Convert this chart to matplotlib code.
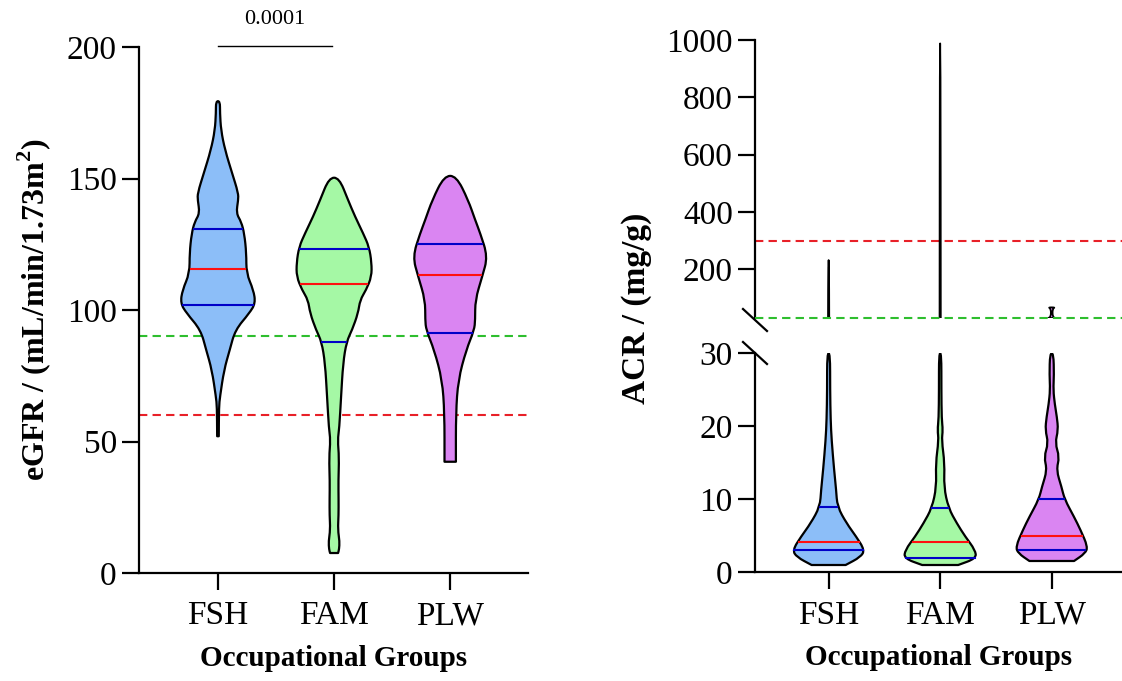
import numpy as np
import matplotlib
matplotlib.use("Agg")
import matplotlib.pyplot as plt
from matplotlib.lines import Line2D
from matplotlib.path import Path
from matplotlib.patches import PathPatch

plt.rcParams['font.family'] = ['Liberation Serif', 'DejaVu Serif']
plt.rcParams['mathtext.fontset'] = 'custom'
plt.rcParams['mathtext.rm'] = 'Liberation Serif'
plt.rcParams['mathtext.bf'] = 'Liberation Serif:bold'

groups = ["FSH", "FAM", "PLW"]
fills = ["#8CBEF8", "#A5F8A5", "#DA85F2"]

# eGFR violin outlines: value levels and relative density (half width)
egfr_levels = {
    "FSH": [52, 63.2, 67, 77.2, 84.8, 92.4, 98.8, 102.6, 107.6, 114, 121.6, 129,
            133.5, 136.8, 141.8, 144.5, 152, 160.8, 168.4, 175, 179.4],
    "FAM": [7.6, 9, 12, 16.5, 22, 28, 35, 44, 50.6, 55, 67, 79.8, 88, 92.4, 98.8,
            103.8, 107.6, 112.7, 118, 124, 129.2, 135.5, 141.8, 150.3],
    "PLW": [42.3, 60.8, 73.4, 84.8, 92.4, 96.2, 103.8, 112.7, 120.3, 129.2, 134.2,
            141.8, 151],
}
egfr_density = {
    "FSH": [0.8, 1, 2, 6, 11.6, 17, 31, 37, 35, 28, 28, 26, 23, 18, 20, 20, 14, 7,
            3, 2, 2],
    "FAM": [4, 5, 5.5, 3.8, 4.5, 4.5, 4.3, 5, 3.6, 5.2, 7, 9, 12.5, 18, 24, 26, 32,
            37.5, 37.5, 35, 29, 21, 14, 5],
    "PLW": [5.7, 5.7, 8, 16, 24, 25, 25, 32, 37.5, 30, 25, 18, 6],
}
egfr_q1 = [101.9, 88.0, 91.4]
egfr_median = [115.6, 109.9, 113.2]
egfr_q3 = [130.7, 123.1, 125.1]
egfr_pvalue = "0.0001"

# ACR violin outlines, lower range (0-30)
acr_levels = {
    "FSH": [1.0, 2.1, 3.05, 4.9, 6.7, 9, 11.3, 14, 18.1, 20.9, 25, 30],
    "FAM": [1.0, 1.9, 3.05, 4.9, 6.7, 8.8, 11.7, 14.9, 18.1, 19.5, 21, 25, 30],
    "PLW": [1.55, 2.6, 3.5, 5.8, 7.6, 10, 11.7, 14, 15.8, 17.7, 19.5, 21.3, 23, 25,
            27, 30],
}
acr_density = {
    "FSH": [17, 32, 36, 27.5, 18, 8.7, 7.5, 5.5, 3, 2, 1.5, 1.5],
    "FAM": [18, 36, 35, 25, 16.7, 8.3, 3.7, 4.5, 1.5, 2.7, 1.5, 1.2, 1.2],
    "PLW": [21.7, 32.5, 35, 28, 21.7, 12.5, 9.5, 4.5, 7.5, 3.3, 6.3, 5, 3, 1.5, 2.2,
            1.7],
}
# ACR upper range (tails above 30)
acr_hi_levels = {
    "FSH": [30, 232],
    "FAM": [30, 988],
    "PLW": [30, 34, 63, 67],
}
acr_hi_density = {
    "FSH": [0.6, 0.4],
    "FAM": [0.6, 0.4],
    "PLW": [3.5, 0.8, 0.8, 3.5],
}
acr_q1 = [3.0, 2.0, 3.0]
acr_median = [4.1, 4.2, 5.0]
acr_q3 = [9.0, 8.8, 10.0]

HALF = 0.323
W, H = 1122, 681


def smooth_outline(xs, ys):
    # quadratic bezier through midpoints so the outline looks rounded
    pts = np.column_stack([xs, ys])
    mids = (pts[:-1] + pts[1:]) / 2
    verts = [pts[0], mids[0]]
    codes = [Path.MOVETO, Path.LINETO]
    for i in range(1, len(pts) - 1):
        verts += [pts[i], mids[i]]
        codes += [Path.CURVE3, Path.CURVE3]
    verts += [pts[-1], pts[0]]
    codes += [Path.LINETO, Path.CLOSEPOLY]
    return Path(verts, codes)


def draw_violin(ax, x, levels, dens, norm, color, lw=1.6):
    y = np.array(levels, float)
    hw = np.array(dens, float) / norm * HALF
    xs = np.concatenate([x - hw, (x + hw)[::-1]])
    ys = np.concatenate([y, y[::-1]])
    ax.add_patch(PathPatch(smooth_outline(xs, ys), facecolor=color,
                           edgecolor="black", lw=lw, zorder=2, joinstyle="round"))


def draw_stat(ax, x, levels, dens, norm, val, color):
    hw = np.interp(val, levels, dens) / norm * HALF * 0.96
    ax.plot([x - hw, x + hw], [val, val], color=color, lw=1.5, zorder=3)


def style(ax):
    for s in ["top", "right"]:
        ax.spines[s].set_visible(False)
    for s in ["left", "bottom"]:
        ax.spines[s].set_linewidth(1.6)
    ax.tick_params(width=1.6, length=12, labelsize=24, pad=4)


fig = plt.figure(figsize=(W / 100, H / 100), dpi=100)

# ---- left panel: eGFR ----
ax1 = fig.add_axes([139 / W, 1 - 573 / H, (528 - 139) / W, 526 / H])
style(ax1)
for i, g in enumerate(groups):
    norm = max(egfr_density[g])
    draw_violin(ax1, i, egfr_levels[g], egfr_density[g], norm, fills[i])
    draw_stat(ax1, i, egfr_levels[g], egfr_density[g], norm, egfr_q1[i], "#0000C8")
    draw_stat(ax1, i, egfr_levels[g], egfr_density[g], norm, egfr_q3[i], "#0000C8")
    draw_stat(ax1, i, egfr_levels[g], egfr_density[g], norm, egfr_median[i], "#FF1010")
ax1.axhline(90, color="#2EBE2E", lw=1.5, ls=(0, (4, 2.5)), zorder=1)
ax1.axhline(60, color="#E82028", lw=1.5, ls=(0, (4, 2.5)), zorder=1)
ax1.set_xlim(-0.68, 2.67)
ax1.set_ylim(0, 200)
ax1.set_yticks([0, 50, 100, 150, 200])
ax1.set_xticks(range(3))
ax1.set_xticklabels(groups)
ax1.tick_params(axis="x", pad=8)
ax1.set_xlabel("Occupational Groups", fontsize=21, fontweight="bold", labelpad=10)
ax1.set_ylabel(r"eGFR / (mL/min/1.73m$^{\mathbf{2}}$)", fontsize=23,
               fontweight="bold", labelpad=10)
ax1.plot([0, 0.98], [200.5, 200.5], color="black", lw=1.0, clip_on=False)
ax1.text(0.49, 207, egfr_pvalue, ha="center", va="bottom", fontsize=16)

# ---- right panel: ACR with broken axis ----
ax_top = fig.add_axes([755 / W, 1 - 318 / H, (W - 755) / W, (318 - 40) / H])
ax_bot = fig.add_axes([755 / W, 1 - 572.3 / H, (W - 755) / W, (572.3 - 353.3) / H])
style(ax_top)
style(ax_bot)
ax_top.spines["bottom"].set_visible(False)
ax_top.tick_params(axis="x", bottom=False, labelbottom=False)
for i, g in enumerate(groups):
    norm = max(acr_density[g])
    draw_violin(ax_bot, i, acr_levels[g], acr_density[g], norm, fills[i])
    draw_violin(ax_top, i, acr_hi_levels[g], acr_hi_density[g], norm, fills[i], lw=1.3)
    draw_stat(ax_bot, i, acr_levels[g], acr_density[g], norm, acr_q1[i], "#0000C8")
    draw_stat(ax_bot, i, acr_levels[g], acr_density[g], norm, acr_q3[i], "#0000C8")
    draw_stat(ax_bot, i, acr_levels[g], acr_density[g], norm, acr_median[i], "#FF1010")
ax_top.axhline(300, color="#E82028", lw=1.5, ls=(0, (4, 2.5)), zorder=1)
ax_top.axhline(30, color="#2EBE2E", lw=1.5, ls=(0, (4, 2.5)), zorder=5, clip_on=False)
for a in (ax_top, ax_bot):
    a.set_xlim(-0.66, 2.63)
ax_top.set_ylim(30, 1000)
ax_top.set_yticks([200, 400, 600, 800, 1000])
ax_bot.set_ylim(0, 30)
ax_bot.set_yticks([0, 10, 20, 30])
ax_bot.set_xticks(range(3))
ax_bot.set_xticklabels(groups)
ax_bot.tick_params(axis="x", pad=8)
ax_bot.set_xlabel("Occupational Groups", fontsize=21, fontweight="bold", labelpad=10)
fig.text(637 / W, 1 - 308 / H, "ACR / (mg/g)", rotation=90, ha="center",
         va="center", fontsize=24, fontweight="bold")

# break marks
for yc in (320, 353):
    fig.add_artist(Line2D([743 / W, 767 / W], [1 - (yc - 11) / H, 1 - (yc + 11) / H],
                          color="black", lw=1.6))

fig.savefig("out.png", dpi=100)
